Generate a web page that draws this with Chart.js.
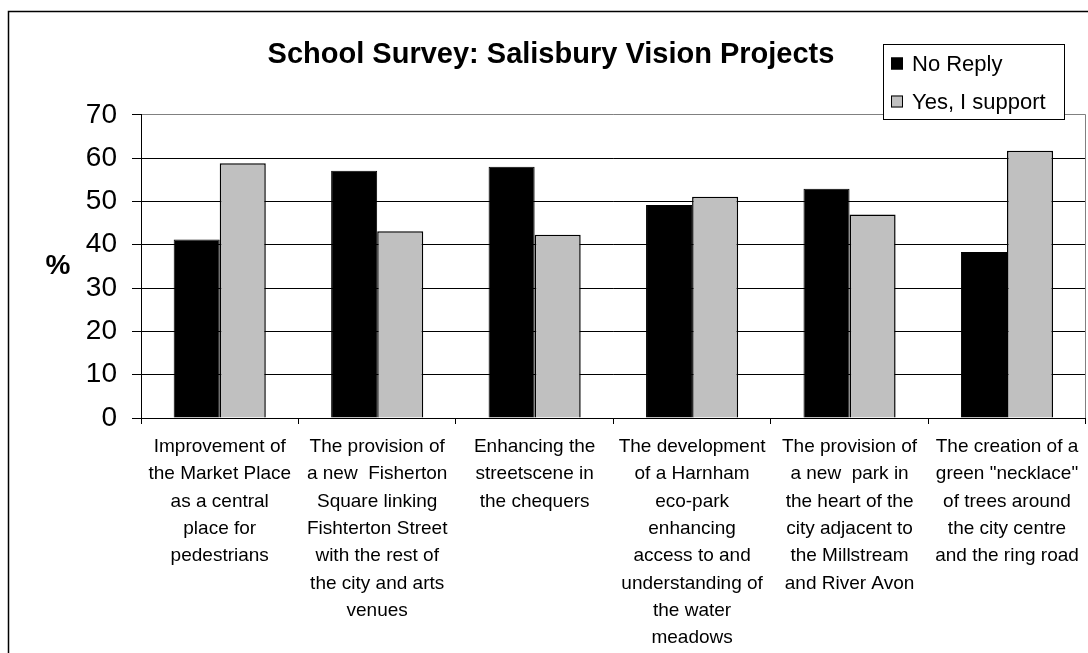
<!DOCTYPE html>
<html lang="en">
<head>
  <meta charset="UTF-8" />
  <title>School Survey: Salisbury Vision Projects</title>
  <script src="https://cdn.jsdelivr.net/npm/chart.js"></script>
  <style>
    body { margin: 0; background: white; }
    canvas { display: block; }
  </style>
</head>
<body>
  <canvas id="surveyChart" width="1088" height="653"></canvas>

  <script>
    const categories = [
      ['Improvement of', 'the Market Place', 'as a central', 'place for', 'pedestrians'],
      ['The provision of', 'a new  Fisherton', 'Square linking', 'Fishterton Street', 'with the rest of', 'the city and arts', 'venues'],
      ['Enhancing the', 'streetscene in', 'the chequers'],
      ['The development', 'of a Harnham', 'eco-park', 'enhancing', 'access to and', 'understanding of', 'the water', 'meadows'],
      ['The provision of', 'a new  park in', 'the heart of the', 'city adjacent to', 'the Millstream', 'and River Avon'],
      ['The creation of a', 'green "necklace"', 'of trees around', 'the city centre', 'and the ring road']
    ];
    const noReply = [41.2, 57.1, 58.0, 49.2, 52.9, 38.3];
    const yesSupport = [58.8, 43.1, 42.3, 51.1, 47.0, 61.7];
    const yTicks = [0, 10, 20, 30, 40, 50, 60, 70];

    const font = "Arial, 'Liberation Sans', sans-serif";

    // frame, "%" label, right plot edge and the boxed legend
    const extras = {
      id: 'extras',
      beforeDraw(chart) {
        const c = chart.ctx;
        c.save();
        c.fillStyle = '#fff';
        c.fillRect(0, 0, chart.width, chart.height);
        c.strokeStyle = '#000';
        c.lineWidth = 1.5;
        c.strokeRect(8.5, 11.5, 1200, 800);
        c.restore();
      },
      afterDraw(chart) {
        const c = chart.ctx;
        const a = chart.chartArea;
        c.save();
        c.strokeStyle = '#808080';
        c.lineWidth = 1;
        c.beginPath();
        c.moveTo(Math.round(a.right) - 0.5, a.top);
        c.lineTo(Math.round(a.right) - 0.5, a.bottom);
        c.stroke();

        c.fillStyle = '#000';
        c.font = 'bold 28px ' + font;
        c.textAlign = 'center';
        c.textBaseline = 'middle';
        c.fillText('%', 58, 266);

        // legend
        c.fillStyle = '#fff';
        c.fillRect(883, 44, 181, 75);
        c.strokeStyle = '#000';
        c.strokeRect(883.5, 44.5, 181, 75);
        const rows = [63.5, 101.5];
        chart.data.datasets.forEach((ds, i) => {
          c.fillStyle = ds.backgroundColor;
          c.fillRect(891, rows[i] - 6, 12, 12);
          c.strokeStyle = '#000';
          c.strokeRect(891.5, rows[i] - 5.5, 11, 11);
          c.fillStyle = '#000';
          c.font = '22px ' + font;
          c.textAlign = 'left';
          c.fillText(ds.label, 912, rows[i] + 1);
        });
        c.restore();
      }
    };

    new Chart(document.getElementById('surveyChart').getContext('2d'), {
      type: 'bar',
      data: {
        labels: categories,
        datasets: [
          { label: 'No Reply', data: noReply, backgroundColor: '#000000', borderColor: '#000', borderWidth: 1 },
          { label: 'Yes, I support', data: yesSupport, backgroundColor: '#c0c0c0', borderColor: '#000', borderWidth: 1.5 }
        ]
      },
      options: {
        responsive: false,
        animation: false,
        layout: { padding: { left: 16, right: 2, top: 0, bottom: 0 } },
        datasets: { bar: { barPercentage: 1, categoryPercentage: 0.585 } },
        plugins: {
          legend: { display: false },
          tooltip: { enabled: false },
          title: {
            display: true,
            text: 'School Survey: Salisbury Vision Projects',
            color: '#000',
            font: { family: font, size: 29, weight: 'bold', lineHeight: 1.2 },
            padding: { top: 38, bottom: 42 }
          }
        },
        scales: {
          x: {
            afterFit(axis) { axis.height = 235; },
            grid: { display: true, drawOnChartArea: false, drawTicks: true, tickLength: 6, color: '#000', tickColor: '#000' },
            border: { color: '#000', width: 1 },
            ticks: {
              color: '#000',
              autoSkip: false,
              maxRotation: 0,
              minRotation: 0,
              padding: 9,
              font: { family: font, size: 19, lineHeight: 1.44 }
            }
          },
          y: {
            min: 0,
            max: 70,
            afterFit(axis) { axis.width = 125; },
            afterBuildTicks(axis) { axis.ticks = yTicks.map(v => ({ value: v })); },
            grid: {
              color: ctx => (ctx.tick && ctx.tick.value === 70 ? '#808080' : '#000'),
              tickColor: '#000',
              tickLength: 9,
              lineWidth: 1
            },
            border: { color: '#000', width: 1 },
            ticks: {
              color: '#000',
              padding: 15,
              font: { family: font, size: 28 }
            }
          }
        }
      },
      plugins: [extras]
    });
  </script>
</body>
</html>
